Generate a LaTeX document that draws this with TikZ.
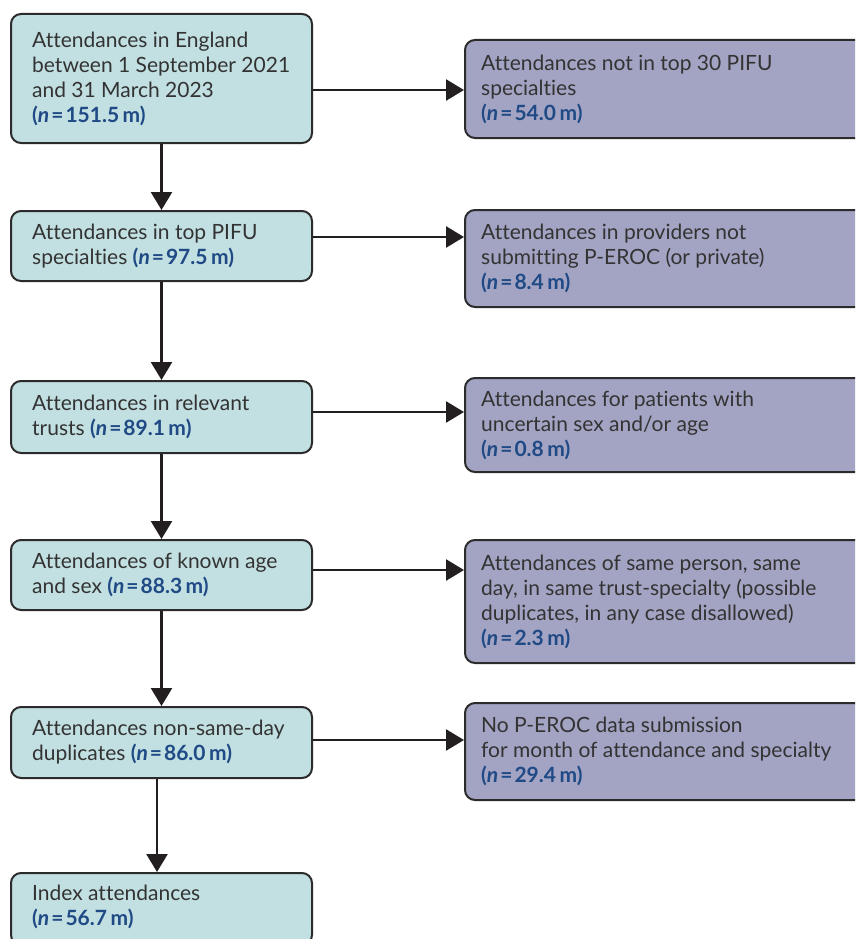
\documentclass[tikz,border=0pt]{standalone}
\usepackage{fontspec}
\setmainfont{Lato}[Ligatures=NoCommon]
\usetikzlibrary{arrows.meta}

\definecolor{tealfill}{HTML}{C2DFE1}
\definecolor{lilacfill}{HTML}{A3A3C3}
\definecolor{edgegray}{HTML}{2B2B2B}
\definecolor{bodytext}{HTML}{333333}
\definecolor{nblue}{HTML}{1F4A85}
\definecolor{arrowblack}{HTML}{231F20}

% bold blue count in the form (n = ... m)
\newcommand{\nval}[1]{{\color{nblue}\bfseries(\textit{n}\kern2pt=\kern2pt#1\,m)}}

\tikzset{
  box/.style={draw=edgegray, line width=2pt, rounded corners=10pt, inner sep=0pt},
  lbox/.style={box, fill=tealfill, minimum width=301pt},
  rbox/.style={box, fill=lilacfill, minimum width=435pt},
  txt/.style={anchor=west, align=left, inner sep=0pt, text=bodytext,
              font=\fontsize{21}{25}\selectfont},
  flow/.style={-{Triangle[length=18pt,width=21pt]}, line width=2.5pt, draw=arrowblack},
}

\begin{document}
\begin{tikzpicture}[x=1pt, y=-1pt]
\useasboundingbox (0,0) rectangle (855,939);
\clip (0,0) rectangle (855,939);

% main flow (left column)
\node[lbox, minimum height=129pt] (L1) at (161.5,78.5) {};
\node[lbox, minimum height=70pt]  (L2) at (161.5,246) {};
\node[lbox, minimum height=72pt]  (L3) at (161.5,417) {};
\node[lbox, minimum height=70pt]  (L4) at (161.5,575) {};
\node[lbox, minimum height=71pt]  (L5) at (161.5,742.5) {};
\node[lbox, minimum height=72pt]  (L6) at (161.5,909) {};

\node[txt] (tL1) at ([xshift=22pt]L1.west) {Attendances in England\\between 1 September 2021\\and 31 March 2023\\\nval{151.5}};
\node[txt] (tL2) at ([xshift=22pt]L2.west) {Attendances in top PIFU\\specialties \nval{97.5}};
\node[txt] (tL3) at ([xshift=22pt]L3.west) {Attendances in relevant\\trusts \nval{89.1}};
\node[txt] (tL4) at ([xshift=22pt]L4.west) {Attendances of known age\\and sex \nval{88.3}};
\node[txt] (tL5) at ([xshift=22pt]L5.west) {Attendances non-same-day\\duplicates \nval{86.0}};
\node[txt] (tL6) at ([xshift=22pt,yshift=2.5pt]L6.west) {Index attendances\\\nval{56.7}};

% exclusions (right column)
\node[rbox, minimum height=98pt]  (R1) at (682.5,89) {};
\node[rbox, minimum height=97pt]  (R2) at (682.5,258.5) {};
\node[rbox, minimum height=94pt]  (R3) at (682.5,425) {};
\node[rbox, minimum height=123pt] (R4) at (682.5,601.5) {};
\node[rbox, minimum height=97pt]  (R5) at (682.5,751.5) {};

\node[txt] (tR1) at ([xshift=17pt]R1.west) {Attendances not in top 30 PIFU\\specialties\\\nval{54.0}};
\node[txt] (tR2) at ([xshift=17pt]R2.west) {Attendances in providers not\\submitting P-EROC (or private)\\\nval{8.4}};
\node[txt] (tR3) at ([xshift=17pt]R3.west) {Attendances for patients with\\uncertain sex and/or age\\\nval{0.8}};
\node[txt] (tR4) at ([xshift=17pt]R4.west) {Attendances of same person, same\\day, in same trust-specialty (possible\\duplicates, in any case disallowed)\\\nval{2.3}};
\node[txt] (tR5) at ([xshift=17pt]R5.west) {No P-EROC data submission\\for month of attendance and specialty\\\nval{29.4}};

% downward flow
\draw[flow] (L1.south) -- (L2.north);
\draw[flow] (L2.south) -- (L3.north);
\draw[flow] (L3.south) -- (L4.north);
\draw[flow] (L4.south) -- (L5.north);
\draw[flow] ([xshift=-4.5pt]L5.south) -- ([xshift=-4.5pt]L5.south |- L6.north);

% exclusions branching right
\draw[flow] ([yshift=-11.5pt]L1.east) -- ([yshift=-11.5pt]L1.east -| R1.west);
\draw[flow] ([yshift=9pt]L2.east) -- ([yshift=9pt]L2.east -| R2.west);
\draw[flow] ([yshift=5pt]L3.east) -- ([yshift=5pt]L3.east -| R3.west);
\draw[flow] ([yshift=5pt]L4.east) -- ([yshift=5pt]L4.east -| R4.west);
\draw[flow] ([yshift=2.5pt]L5.east) -- ([yshift=2.5pt]L5.east -| R5.west);
\end{tikzpicture}
\end{document}
